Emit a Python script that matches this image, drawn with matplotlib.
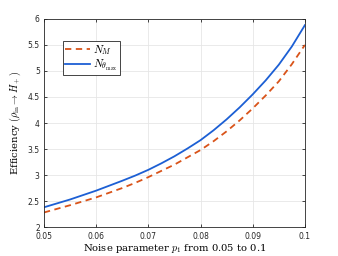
import numpy as np
import matplotlib
matplotlib.use("Agg")
from matplotlib import pyplot as plt

# values
p1 = [0.05, 0.0525, 0.055, 0.0575, 0.06, 0.0625, 0.065, 0.0675, 0.07, 0.0725, 0.075,
      0.0775, 0.08, 0.0825, 0.085, 0.0875, 0.09, 0.0925, 0.095, 0.0975, 0.1]
eff_theta = [2.38, 2.455, 2.53, 2.615, 2.70, 2.795, 2.89, 2.99, 3.10, 3.225, 3.36,
             3.51, 3.67, 3.86, 4.07, 4.30, 4.55, 4.82, 5.12, 5.47, 5.88]
eff_M = [2.28, 2.35, 2.42, 2.495, 2.57, 2.66, 2.75, 2.85, 2.96, 3.08, 3.20,
         3.34, 3.48, 3.65, 3.84, 4.05, 4.28, 4.53, 4.80, 5.13, 5.50]

xticks = [0.05, 0.06, 0.07, 0.08, 0.09, 0.1]
xticklabels = ["0.05", "0.06", "0.07", "0.08", "0.09", "0.1"]
yticks = [2, 2.5, 3, 3.5, 4, 4.5, 5, 5.5, 6]
yticklabels = ["2", "2.5", "3", "3.5", "4", "4.5", "5", "5.5", "6"]

plt.rcParams["mathtext.fontset"] = "cm"
plt.rcParams["font.family"] = "DejaVu Sans"

fig = plt.figure(figsize=(3.38, 2.56), dpi=100)
ax = fig.add_axes([0.130, 0.113, 0.772, 0.813])

ax.plot(p1, eff_M, color="#D95319", linestyle=(0, (3.5, 2.5)), linewidth=1.3, label=r"$N_M$")
ax.plot(p1, eff_theta, color="#1C5FD4", linewidth=1.3, label=r"$N_{\theta_{\max}}$")

ax.set_xlim(0.05, 0.1)
ax.set_ylim(2, 6)
ax.set_xticks(xticks)
ax.set_xticklabels(xticklabels)
ax.set_yticks(yticks)
ax.set_yticklabels(yticklabels)
ax.tick_params(direction="in", labelsize=5.5, length=2.5, width=0.6, colors="#262626",
               top=True, right=True)
ax.tick_params(axis="x", pad=3.5)
ax.tick_params(axis="y", pad=3)
ax.grid(True, color="#E6E6E6", linewidth=0.6)
ax.set_axisbelow(True)
for s in ax.spines.values():
    s.set_color("#262626")
    s.set_linewidth(0.6)

ax.set_xlabel(r"Noise parameter $p_1$ from 0.05 to 0.1", fontname="DejaVu Serif",
              fontsize=7.2, labelpad=1)
ax.set_ylabel(r"Efficiency $(\rho_{\rm in} \to H_+)$", fontname="DejaVu Serif",
              fontsize=7.2, labelpad=3)

leg = ax.legend(loc="upper left", bbox_to_anchor=(0.073, 0.895), fontsize=8,
                fancybox=False, framealpha=1, edgecolor="#262626",
                borderpad=0.2, handlelength=2.2, labelspacing=0.05, handletextpad=0.3,
                borderaxespad=0)
leg.get_frame().set_linewidth(0.6)

fig.savefig("out.png", dpi=100)
